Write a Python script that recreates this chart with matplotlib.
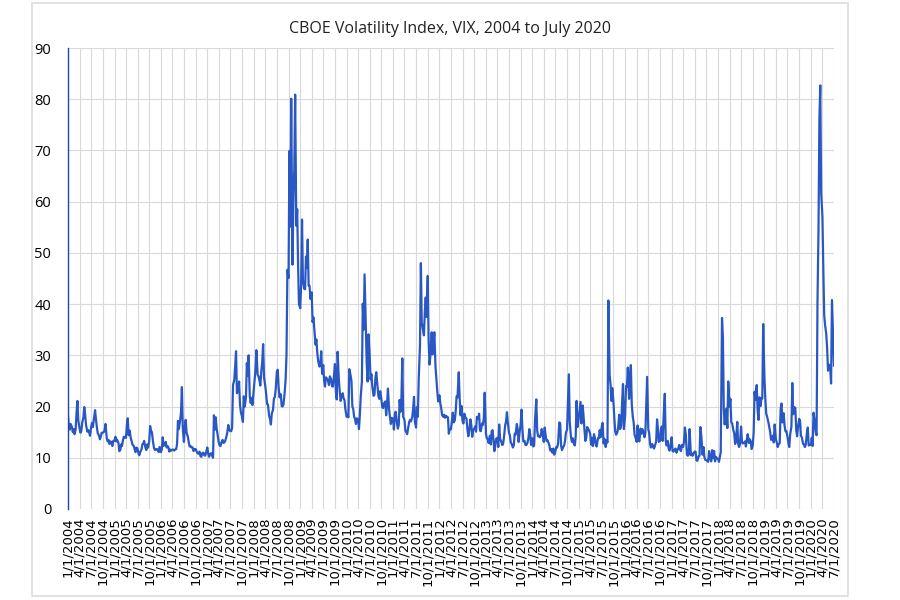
import datetime as dt
import matplotlib
matplotlib.use("Agg")
import matplotlib.pyplot as plt
from matplotlib.patches import Rectangle

# Approximate weekly VIX closes (4 per month: ~1st, 8th, 15th, 22nd)
vix = {
    2004: [18.2, 16.0, 15.5, 16.6, 16.0, 15.0, 15.6, 14.6, 15.5, 18.7, 21.1, 17.3,
           15.7, 14.9, 15.3, 16.9, 17.8, 19.9, 18.4, 16.4, 15.1, 15.4, 15.0, 14.3,
           16.0, 16.8, 16.0, 17.5, 19.3, 17.5, 16.0, 14.8, 14.3, 13.6, 14.1, 14.9,
           14.9, 15.0, 15.4, 16.6, 13.8, 13.2, 13.5, 12.7, 13.2, 12.9, 12.3, 13.3],
    2005: [13.3, 14.1, 13.2, 13.5, 12.9, 11.3, 11.5, 12.6, 12.3, 13.4, 14.1, 14.0,
           13.9, 16.4, 17.7, 14.4, 15.3, 13.9, 13.3, 12.6, 12.3, 11.7, 11.1, 12.0,
           11.8, 10.9, 10.5, 11.1, 11.6, 12.6, 12.8, 13.3, 12.0, 11.5, 12.6, 12.0,
           13.2, 16.2, 15.3, 15.0, 12.9, 11.9, 11.5, 11.6, 11.7, 11.5, 11.1, 12.1],
    2006: [11.1, 11.6, 14.0, 12.3, 12.7, 13.1, 12.0, 12.3, 12.0, 11.2, 11.6, 11.4,
           11.6, 11.6, 11.4, 11.6, 11.7, 12.7, 17.2, 15.6, 17.3, 18.9, 23.8, 15.8,
           13.1, 16.0, 17.4, 14.9, 14.1, 13.0, 12.2, 12.3, 12.0, 12.0, 11.3, 11.7,
           11.7, 11.3, 10.9, 10.8, 11.2, 10.3, 10.2, 10.9, 11.0, 10.5, 10.4, 11.0],
    2007: [12.0, 10.8, 10.2, 10.7, 10.9, 10.4, 10.0, 18.3, 15.5, 17.9, 15.8, 14.6,
           13.0, 12.4, 12.3, 13.0, 13.5, 12.9, 13.0, 13.3, 14.2, 15.1, 16.4, 15.5,
           15.2, 15.2, 15.8, 24.2, 25.2, 27.8, 30.8, 22.6, 23.1, 24.9, 20.4, 18.9,
           18.0, 17.0, 22.0, 20.0, 21.8, 28.5, 26.0, 30.0, 22.0, 20.7, 21.7, 20.3],
    2008: [23.2, 25.4, 27.2, 31.0, 26.2, 25.9, 25.1, 24.1, 27.0, 28.7, 32.2, 25.7,
           24.0, 22.4, 20.5, 20.4, 18.2, 17.6, 16.5, 18.6, 19.4, 21.6, 21.8, 23.4,
           26.8, 27.2, 23.8, 21.8, 22.4, 20.1, 20.0, 20.4, 22.9, 25.3, 30.3, 46.7,
           45.1, 69.9, 55.1, 80.1, 47.7, 59.8, 66.3, 80.9, 55.3, 58.5, 47.7, 40.0],
    2009: [39.2, 43.8, 56.5, 44.7, 43.0, 42.9, 49.3, 47.1, 52.6, 43.6, 43.6, 41.0,
           42.3, 36.5, 37.4, 35.2, 32.1, 33.1, 30.5, 28.9, 27.8, 28.2, 30.8, 26.4,
           28.1, 25.0, 23.9, 25.7, 25.4, 25.0, 24.2, 25.9, 25.3, 24.0, 23.9, 25.6,
           28.3, 23.1, 21.4, 30.7, 25.1, 22.9, 21.1, 22.0, 22.6, 21.6, 21.3, 19.5],
    2010: [18.0, 18.3, 17.9, 27.3, 26.1, 25.0, 20.0, 19.5, 18.0, 17.6, 16.6, 17.7,
           17.5, 15.6, 18.4, 22.0, 24.9, 40.1, 35.0, 45.8, 35.5, 28.3, 24.9, 34.1,
           30.1, 25.3, 26.3, 23.9, 22.1, 22.3, 25.5, 26.7, 24.0, 22.0, 21.5, 23.0,
           21.5, 19.9, 19.7, 20.6, 21.0, 18.3, 20.6, 23.5, 19.4, 17.9, 16.6, 17.8],
    2011: [17.6, 15.5, 18.5, 19.0, 16.7, 15.7, 16.4, 21.3, 19.0, 21.7, 29.4, 18.0,
           17.4, 15.3, 15.0, 14.6, 16.0, 17.0, 17.4, 17.1, 17.9, 19.5, 21.9, 17.0,
           15.9, 19.9, 18.0, 25.3, 32.0, 48.0, 36.3, 35.5, 33.9, 38.5, 41.3, 37.5,
           45.5, 32.9, 28.2, 29.9, 34.5, 30.2, 32.0, 34.5, 27.8, 25.4, 23.0, 21.0],
    2012: [22.2, 20.6, 19.7, 18.3, 18.0, 18.4, 17.8, 18.2, 18.0, 17.9, 14.7, 15.6,
           15.6, 17.2, 18.8, 16.9, 17.3, 19.1, 22.0, 21.8, 26.7, 21.7, 18.3, 20.1,
           17.1, 16.7, 18.6, 18.0, 17.6, 15.6, 14.2, 15.2, 17.5, 16.3, 14.1, 15.4,
           15.7, 16.1, 15.1, 18.0, 17.6, 18.6, 15.3, 15.2, 16.7, 16.4, 17.7, 22.7],
    2013: [14.7, 13.8, 13.6, 12.9, 14.3, 12.6, 15.2, 15.4, 13.5, 11.3, 12.3, 13.7,
           13.9, 12.1, 16.5, 13.7, 13.2, 12.5, 12.6, 13.8, 16.3, 17.1, 18.9, 16.9,
           14.9, 14.4, 13.0, 12.7, 12.0, 12.4, 14.7, 14.5, 16.6, 15.4, 13.1, 14.8,
           16.6, 19.4, 15.5, 13.2, 13.3, 12.5, 12.5, 12.8, 13.8, 15.6, 14.6, 12.5],
    2014: [13.8, 12.2, 12.4, 17.3, 21.4, 15.3, 14.2, 14.3, 14.0, 14.3, 15.6, 14.9,
           13.1, 15.9, 14.5, 13.3, 13.4, 12.9, 12.4, 11.4, 11.7, 11.0, 11.8, 10.6,
           11.2, 12.1, 12.0, 12.7, 16.9, 16.7, 12.4, 11.5, 12.1, 12.4, 13.3, 14.9,
           15.5, 21.2, 26.3, 17.0, 14.0, 13.1, 13.8, 12.9, 12.4, 14.2, 21.1, 16.0],
    2015: [17.8, 19.4, 20.9, 16.7, 20.2, 18.1, 15.5, 13.3, 13.9, 16.0, 15.7, 15.4,
           14.7, 12.6, 13.9, 12.3, 14.6, 13.9, 12.5, 12.2, 13.8, 13.8, 15.4, 14.0,
           16.1, 16.8, 12.8, 13.7, 12.1, 13.4, 13.0, 40.7, 26.1, 24.4, 21.1, 23.6,
           20.9, 17.7, 15.1, 14.5, 15.0, 16.1, 18.4, 15.6, 16.3, 20.7, 24.4, 15.6],
    2016: [18.2, 24.0, 23.9, 27.6, 21.5, 26.0, 28.1, 20.5, 18.0, 16.9, 14.5, 14.0,
           13.1, 16.3, 13.6, 13.2, 15.7, 14.7, 15.6, 15.2, 14.0, 14.8, 20.1, 25.8,
           15.6, 14.8, 12.7, 12.0, 12.7, 12.2, 11.8, 12.3, 13.2, 17.5, 15.6, 13.1,
           13.3, 15.4, 16.1, 13.3, 19.3, 22.5, 13.4, 12.4, 13.3, 11.8, 11.4, 12.2],
    2017: [14.0, 11.3, 11.2, 11.5, 11.8, 11.0, 11.5, 11.8, 12.5, 11.6, 11.3, 12.5,
           12.1, 13.1, 15.9, 14.6, 10.6, 10.4, 10.7, 15.6, 10.5, 10.8, 10.4, 10.9,
           11.2, 11.2, 9.5, 9.4, 10.3, 10.4, 16.0, 14.3, 10.6, 12.1, 10.2, 9.6,
           9.5, 9.5, 9.2, 11.3, 9.9, 9.3, 11.5, 9.9, 11.3, 9.3, 10.2, 9.9],
    2018: [9.8, 9.2, 10.2, 11.1, 37.3, 33.5, 19.5, 16.5, 18.7, 19.6, 15.8, 24.9,
           20.0, 21.5, 16.9, 16.7, 15.4, 14.8, 12.7, 13.2, 17.0, 12.7, 12.1, 12.6,
           16.1, 13.0, 12.8, 12.9, 13.2, 12.2, 13.5, 14.6, 12.9, 13.6, 13.2, 11.7,
           12.4, 15.0, 22.9, 21.3, 24.2, 19.4, 17.4, 21.8, 20.1, 21.6, 21.6, 36.1],
    2019: [25.4, 21.4, 18.6, 18.0, 16.9, 16.0, 15.0, 13.5, 13.7, 14.3, 13.0, 16.5,
           13.6, 13.0, 12.1, 12.6, 12.9, 19.4, 20.6, 16.9, 18.7, 16.3, 15.2, 15.2,
           14.1, 12.9, 12.1, 14.5, 16.1, 24.6, 18.5, 19.9, 19.7, 15.3, 14.2, 15.9,
           17.6, 17.2, 14.3, 14.0, 12.7, 12.6, 12.1, 12.6, 14.9, 15.9, 12.4, 12.5],
    2020: [12.5, 13.9, 12.3, 18.8, 17.0, 15.0, 14.4, 40.1, 54.5, 75.9, 82.7, 61.7,
           57.1, 46.8, 37.8, 35.9, 34.2, 31.4, 27.0, 28.2, 27.6, 24.5, 40.8, 35.1,
           28.0],
}

dates, values = [], []
for year, vals in vix.items():
    for i, v in enumerate(vals):
        dates.append(dt.date(year, i // 4 + 1, 1 + 7 * (i % 4)))
        values.append(v)

tick_dates = [dt.date(y, m, 1) for y in range(2004, 2021) for m in (1, 4, 7, 10)
              if dt.date(y, m, 1) <= dt.date(2020, 7, 1)]
tick_labels = [f"{d.month}/{d.day}/{d.year}" for d in tick_dates]

fig = plt.figure(figsize=(9, 6), dpi=100)
fig.patches.append(Rectangle((32 / 900, 4 / 600), 816 / 900, 593 / 600,
                             transform=fig.transFigure, fill=False,
                             edgecolor="#dcdcdc", linewidth=1.2))
ax = fig.add_axes([68 / 900, 91 / 600, 766 / 900, 461 / 600])

ax.plot(dates, values, color="#2958C5", linewidth=1.6)

ax.set_ylim(0, 90)
ax.set_yticks(range(0, 91, 10))
ax.set_xlim(dt.date(2004, 1, 1), dt.date(2020, 7, 1))
ax.set_xticks(tick_dates)
ax.set_xticklabels(tick_labels, rotation=90, fontsize=9.5, family="DejaVu Sans")
for lbl in ax.get_yticklabels():
    lbl.set_fontsize(10.5)
    lbl.set_family("Open Sans")

ax.grid(True, color="#d9d9d9", linewidth=0.8)
ax.set_axisbelow(True)
ax.tick_params(length=0, pad=6)
ax.tick_params(axis="y", pad=12)
for s in ("top", "right", "bottom"):
    ax.spines[s].set_visible(False)
ax.spines["left"].set_color("#2246B0")
ax.spines["left"].set_linewidth(1.0)

fig.suptitle("CBOE Volatility Index, VIX, 2004 to July 2020", x=0.5, y=0.965,
             fontsize=11.5, family="Open Sans", color="#222222")

fig.savefig("out.png", dpi=100)
